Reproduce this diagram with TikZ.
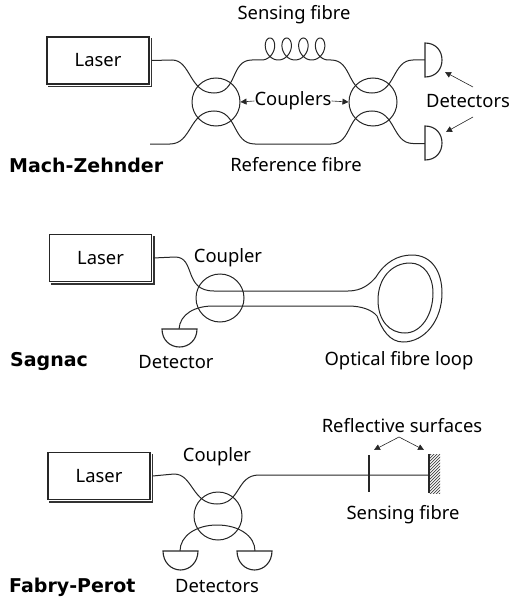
\documentclass[tikz,border=0pt]{standalone}
\usepackage{fontspec}
\setmainfont{Noto Sans}
\newfontfamily\headfont{DejaVu Sans Bold}
\usetikzlibrary{arrows.meta}
\newcommand{\boxshadow}[1]{\draw[black!80,line width=1.2pt] ([xshift=2pt,yshift=-2pt]#1.south west) -- ([xshift=2pt,yshift=-2pt]#1.south east) -- ([xshift=2pt,yshift=-2pt]#1.north east);}
\tikzset{
  x=1pt,y=-1pt,
  lbl/.style={inner sep=0pt,font=\fontsize{18.4}{20}\selectfont,text=black},
  head/.style={inner sep=0pt,anchor=west,font=\headfont\fontsize{19}{22}\selectfont},
  laserbox/.style={draw=black!85,line width=1.1pt,fill=white,minimum width=102pt,minimum height=47pt,inner sep=0pt},
  coupler/.style={circle,draw=black!85,line width=1pt,minimum size=48pt,inner sep=0pt},
  fibre/.style={draw=black!85,line width=1pt},
  det/.style={draw=black!85,line width=1.1pt,fill=white},
  ptr/.style={draw=black!85,line width=.6pt,-{Triangle[length=6pt,width=6pt]}},
}
\begin{document}
\begin{tikzpicture}
\useasboundingbox (0,0) rectangle (510,599);
% ---------- Mach-Zehnder
\node[laserbox,lbl] (laserA) at (98,60.5) {Laser};
\boxshadow{laserA}
\node[coupler] (cA1) at (216,102) {};
\node[coupler] (cA2) at (373,102) {};
\coordinate (freeA) at (150,144);
\coordinate (dA1) at (425,60);
\coordinate (dA2) at (425,143.5);
\draw[fibre] (laserA.east) ++(2,0) -- (172,60) .. controls (191,60) and (189,93) .. (214,93) .. controls (238,93) and (230,60) .. (252,60) -- (261.6,60)
  -- plot[smooth,domain=0:25.13,samples=140] ({261.6+2.66*\x+8.5*sin(\x r)},{49+11*cos(\x r)})
  -- (331,60) .. controls (353,60) and (346,93) .. (372,93) .. controls (396,93) and (392,60) .. (413,60) -- (dA1);
\draw[fibre] (freeA) -- (170,144) .. controls (192,144) and (189,111) .. (214,111) .. controls (238,111) and (232,144) .. (255,144) -- (331,144) .. controls (353,144) and (346,111) .. (372,111) .. controls (396,111) and (392,143.5) .. (413,143.5) -- (dA2);
\draw[det] (425,43) -- (425,77) .. controls (436,77) and (442,69) .. (442,60) .. controls (442,51) and (436,43) .. (425,43) -- cycle;
\draw[det] (425,126) -- (425,160) .. controls (436,160) and (442,152) .. (442,143) .. controls (442,134) and (436,126) .. (425,126) -- cycle;
\node[lbl] (tSensA) at (294,15) {Sensing fibre};
\node[lbl] (tCoup) at (293,101) {Couplers};
\node[lbl] (tRefA) at (296,165) {Reference fibre};
\node[lbl] (tDet) at (468,101) {Detectors};
\node[head] (nameA) at (9,165) {Mach-Zehnder};
\draw[ptr] (tCoup.west) -- (cA1.east);
\draw[ptr] (tCoup.east) -- (cA2.west);
\coordinate (pa1) at (473,87); \coordinate (pa2) at (445,72);
\coordinate (pb1) at (473,117); \coordinate (pb2) at (446,132);
\draw[ptr] (pa1) -- (pa2);
\draw[ptr] (pb1) -- (pb2);
% ---------- Sagnac
\node[laserbox,lbl] (laserB) at (100.5,258) {Laser};
\boxshadow{laserB}
\node[coupler] (cB) at (220,298) {};
\coordinate (dB) at (179,329);
\draw[fibre] (laserB.east) ++(1,0) -- (175,257) .. controls (196,257) and (183,291) .. (214,291) -- (348,291) .. controls (362,291) and (370,284) .. (376,277) .. controls (385,262) and (398,255) .. (412,255) .. controls (432,255) and (442,272) .. (442,293) .. controls (442,320) and (425,342) .. (403,342) .. controls (390,342) and (382,330) .. (377,316) .. controls (372,310) and (362,306) .. (348,306) -- (213,306) .. controls (195,306) and (180,314) .. (dB);
\draw[fibre] (378,300) .. controls (378,278) and (392,263) .. (410,263) .. controls (424,263) and (433,276) .. (433,293) .. controls (433,315) and (421,333) .. (405,333) .. controls (389,333) and (378,320) .. (378,300) -- cycle;
\draw[det] (162,329) -- (197,329) .. controls (197,340) and (189,347) .. (179.5,347) .. controls (170,347) and (162,340) .. (162,329) -- cycle;
\node[lbl] (tCoupB) at (228,258) {Coupler};
\node[lbl] (tDetB) at (176,362) {Detector};
\node[lbl] (tLoop) at (399,361) {Optical fibre loop};
\node[head] (nameB) at (10,361) {Sagnac};
% ---------- Fabry-Perot
\node[laserbox,lbl] (laserC) at (99,476) {Laser};
\boxshadow{laserC}
\node[coupler] (cC) at (218,516) {};
\coordinate (mirrorC) at (428,475);
\coordinate (dC1) at (180,551);
\coordinate (dC2) at (255,551);
\draw[fibre] (laserC.east) ++(2,0) -- (174,474) .. controls (193,474) and (192,504) .. (217,504) .. controls (241,504) and (236,475) .. (259,475) -- (mirrorC);
\draw[fibre] (dC1) .. controls (180,536) and (196,525) .. (217,525) .. controls (239,525) and (255,536) .. (dC2);
\draw[det] (163,551) -- (198,551) .. controls (198,562) and (190,570) .. (180.5,570) .. controls (171,570) and (163,562) .. (163,551) -- cycle;
\draw[det] (237,551) -- (272,551) .. controls (272,562) and (264,570) .. (254.5,570) .. controls (245,570) and (237,562) .. (237,551) -- cycle;
\draw[line width=1.4pt,black!85] (369,455) coordinate (barT) -- (369,492);
\begin{scope}
\clip (429,454) rectangle (440,493);
\foreach \k in {0,3,...,54} \draw[black!75,line width=.7pt] (427,{452+\k}) -- (442,{452+\k-15});
\end{scope}
\draw[line width=1.4pt,black!85] (429,454) coordinate (mirT) -- (429,493);
\node[lbl] (tCoupC) at (217,457) {Coupler};
\node[lbl] (tRefl) at (402,426) {Reflective surfaces};
\node[lbl] (tSensC) at (403,515) {Sensing fibre};
\node[lbl] (tDetC) at (217,586) {Detectors};
\node[head] (nameC) at (9,587) {Fabry-Perot};
\coordinate (apex) at (399,437);
\coordinate (tipL) at (374,450);
\coordinate (tipR) at (424,450);
\draw[ptr] (apex) -- (tipL);
\draw[ptr] (apex) -- (tipR);
\end{tikzpicture}
\end{document}
